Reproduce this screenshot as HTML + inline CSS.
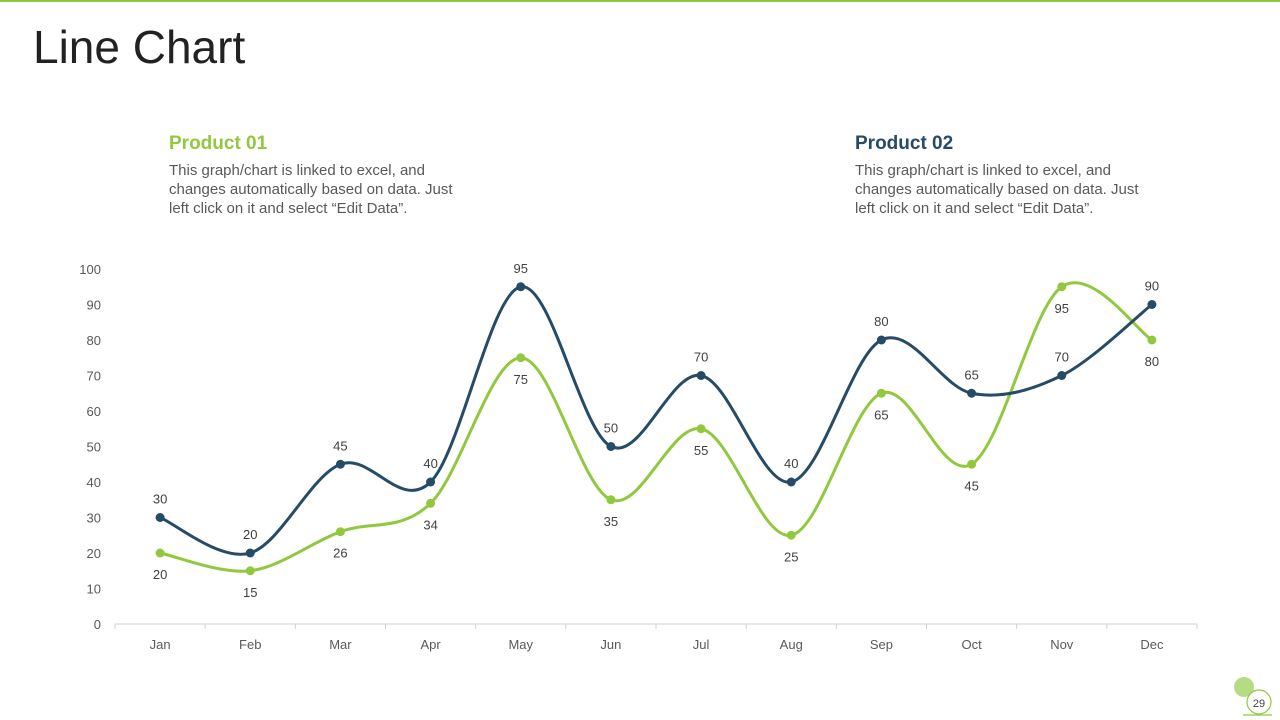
<!DOCTYPE html>
<html><head><meta charset="utf-8"><style>
body{margin:0;width:1280px;height:720px;background:#fff;overflow:hidden;font-family:"Liberation Sans",sans-serif;position:relative}
.top{position:absolute;left:0;top:0;width:1280px;height:2px;background:#92c83e}
h1{position:absolute;left:33px;top:20px;margin:0;font-weight:normal;font-size:46px;color:#222}
.ph{position:absolute;font-weight:bold;font-size:19px}
.pt{position:absolute;font-size:15px;line-height:19px;color:#595959;width:305px}
</style></head><body>
<div class="top"></div>
<h1>Line Chart</h1>
<div class="ph" style="left:169px;top:133px;color:#92c83e">Product 01</div>
<div class="pt" style="left:169px;top:161px">This graph/chart is linked to excel, and changes automatically based on data. Just left click on it and select “Edit Data”.</div>
<div class="ph" style="left:855px;top:133px;color:#264b66">Product 02</div>
<div class="pt" style="left:855px;top:161px">This graph/chart is linked to excel, and changes automatically based on data. Just left click on it and select “Edit Data”.</div>
<svg id="chart" width="1280" height="720" style="position:absolute;left:0;top:0"></svg>
<svg width="1280" height="720" style="position:absolute;left:0;top:0;pointer-events:none">
<circle cx="1244" cy="687" r="10" fill="#b5dc85"/>
<circle cx="1259" cy="702" r="12" fill="none" stroke="#92c83e" stroke-width="1.2"/>
<line x1="1243" y1="715" x2="1272" y2="715" stroke="#92c83e" stroke-width="1.2"/>
<text x="1259" y="707" font-size="11" text-anchor="middle" fill="#444" font-family="Liberation Sans">29</text>
</svg>
<script>
const categories=["Jan","Feb","Mar","Apr","May","Jun","Jul","Aug","Sep","Oct","Nov","Dec"];
const product01=[20,15,26,34,75,35,55,25,65,45,95,80];
const product02=[30,20,45,40,95,50,70,40,80,65,70,90];
const yTicks=[0,10,20,30,40,50,60,70,80,90,100];
const svg=document.getElementById('chart');
const NS='http://www.w3.org/2000/svg';
const x0=115,x1=1197,y0=624,y100=269;
const step=(x1-x0)/categories.length;
const xs=i=>x0+step*(i+0.5);
const ys=v=>y0+(y100-y0)*v/100;
function mk(t,a){const e=document.createElementNS(NS,t);for(const k in a)e.setAttribute(k,a[k]);svg.appendChild(e);return e;}
let ax=mk('line',{x1:x0,y1:y0,x2:x1,y2:y0,stroke:'#d0d0d0'});


for(let i=0;i<=categories.length;i++){let t=mk('line',{x1:x0+step*i,y1:y0,x2:x0+step*i,y2:y0+5,stroke:'#d0d0d0'});

}
categories.forEach((c,i)=>{let t=mk('text',{x:xs(i),y:649,'font-size':13,'text-anchor':'middle',fill:'#595959'});t.textContent=c;

});
yTicks.forEach(v=>{let t=mk('text',{x:101,y:ys(v)+5,'font-size':13,'text-anchor':'end',fill:'#595959'});t.textContent=v;

});
function path(data){const p=data.map((v,i)=>[xs(i),ys(v)]);let d='M'+p[0];
for(let i=0;i<p.length-1;i++){const a=p[Math.max(i-1,0)],b=p[i],c=p[i+1],e=p[Math.min(i+2,p.length-1)];
const c1=[b[0]+(c[0]-a[0])/6,b[1]+(c[1]-a[1])/6],c2=[c[0]-(e[0]-b[0])/6,c[1]-(e[1]-b[1])/6];
d+=' C'+c1+' '+c2+' '+c;}return d;}
function series(data,color,name,above){
let l=mk('path',{d:path(data),fill:'none',stroke:color,'stroke-width':3});


data.forEach((v,i)=>{let c=mk('circle',{cx:xs(i),cy:ys(v),r:4.5,fill:color});


let t=mk('text',{x:xs(i),y:above?ys(v)-14:ys(v)+26,'font-size':13,'text-anchor':'middle',fill:'#404040'});t.textContent=v;

});}
series(product01,'#92c83e','product-01',false);
series(product02,'#264b66','product-02',true);
</script>
</body></html>
